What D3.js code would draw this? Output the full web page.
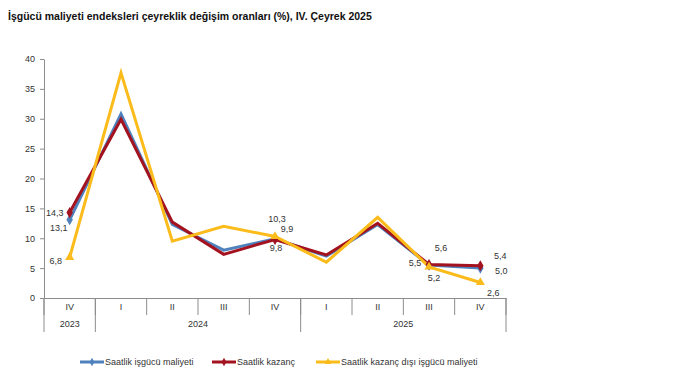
<!DOCTYPE html>
<html>
<head>
<meta charset="utf-8">
<script src="https://cdn.jsdelivr.net/npm/d3@7"></script>
<style>
  body { margin: 0; background: #fff; }
  text { font-family: Arial, "Liberation Sans", sans-serif; }
</style>
</head>
<body>
<div id="chart"></div>
<script>
// Data
var quarters = ["IV", "I", "II", "III", "IV", "I", "II", "III", "IV"];
var years = [
    { label: "2023", from: 0, to: 1 },
    { label: "2024", from: 1, to: 5 },
    { label: "2025", from: 5, to: 9 }
];
var hourlyLabourCost = [13.1, 30.8, 12.3, 8.0, 9.9, 7.0, 12.3, 5.5, 5.0];
var hourlyEarnings = [14.3, 29.9, 12.7, 7.3, 9.8, 7.2, 12.5, 5.6, 5.4];
var nonWageCost = [6.8, 37.7, 9.5, 12.0, 10.3, 6.0, 13.5, 5.2, 2.6];
var yTicks = [0, 5, 10, 15, 20, 25, 30, 35, 40];

var seriesNames = ["Saatlik işgücü maliyeti", "Saatlik kazanç", "Saatlik kazanç dışı işgücü maliyeti"];

// labels that are printed on the chart: index, dx, dy
var blueLabels = [[0, -11, 11], [4, 12, -6.5], [7, -14, 1], [8, 21, 6]];
var redLabels = [[0, -15, 3], [4, 1, 12], [7, 12, -14], [8, 20, -7]];
var yellowLabels = [[0, -14, 7], [4, 2, -14], [7, 5, 14], [8, 13, 14]];

var svg = d3.select("#chart").append("svg").attr("width", 684).attr("height", 385);

svg.append("text")
    .attr("x", 8).attr("y", 20)
    .attr("font-size", "10.5px")
    .attr("font-weight", "bold")
    .attr("fill", "#111")
    .text("İşgücü maliyeti endeksleri çeyreklik değişim oranları (%), IV. Çeyrek 2025");

var margin = { left: 44, top: 59, right: 178, bottom: 87 };
var width = 684 - margin.left - margin.right;
var height = 385 - margin.top - margin.bottom;

var chart = svg.append("g").attr("transform", "translate(" + margin.left + "," + margin.top + ")");

var x = d3.scaleBand()
    .domain(d3.range(quarters.length))
    .range([0, width])
    .padding(0);

var y = d3.scaleLinear()
    .domain([0, 40])
    .range([height, 0]);

var axisColor = "#8c8c8c";

// Y axis
var yAxis = chart.append("g")
    .call(d3.axisLeft(y).tickValues(yTicks).tickSize(4).tickSizeOuter(0));
yAxis.select(".domain").attr("stroke", axisColor);
yAxis.selectAll(".tick line").attr("stroke", axisColor);
yAxis.selectAll("text").attr("fill", "#333").attr("font-size", "9px").attr("dx", "-2");

// X axis
var xAxis = chart.append("g")
    .attr("transform", "translate(0," + height + ")")
    .call(d3.axisBottom(x).tickFormat(i => quarters[i]).tickSize(0).tickSizeOuter(0));
xAxis.select(".domain").attr("stroke", axisColor);
xAxis.selectAll("text").attr("fill", "#333").attr("font-size", "9px").attr("dy", "9");

var bandEnd = i => i < quarters.length ? x(i) : x(quarters.length - 1) + x.bandwidth();

// quarter separators
chart.selectAll(".qsep")
    .data(d3.range(quarters.length + 1))
    .enter().append("line")
    .attr("x1", i => bandEnd(i))
    .attr("x2", i => bandEnd(i))
    .attr("y1", height)
    .attr("y2", height + 17)
    .attr("stroke", axisColor);

// year separators and labels
var yearEdges = [0].concat(years.map(d => d.to));
chart.selectAll(".ysep")
    .data(yearEdges)
    .enter().append("line")
    .attr("x1", i => bandEnd(i))
    .attr("x2", i => bandEnd(i))
    .attr("y1", height)
    .attr("y2", height + 34)
    .attr("stroke", axisColor);

chart.selectAll(".ylab")
    .data(years)
    .enter().append("text")
    .attr("x", d => (bandEnd(d.from) + bandEnd(d.to)) / 2)
    .attr("y", height + 29)
    .attr("text-anchor", "middle")
    .attr("font-size", "9px")
    .attr("fill", "#333")
    .text(d => d.label);

var cx = i => x(i) + x.bandwidth() / 2;

var series = [
    { values: hourlyLabourCost, color: "#4f81bd", symbol: d3.symbolDiamond, size: 36, labels: blueLabels },
    { values: hourlyEarnings, color: "#a3121f", symbol: d3.symbolDiamond, size: 36, labels: redLabels },
    { values: nonWageCost, color: "#fbbc1b", symbol: d3.symbolTriangle, size: 36, labels: yellowLabels }
];

var line = d3.line().x((d, i) => cx(i)).y(d => y(d));

series.forEach(function (s) {
    chart.append("path")
        .datum(s.values)
        .attr("fill", "none")
        .attr("stroke", s.color)
        .attr("stroke-width", 3)
        .attr("stroke-linejoin", "miter")
        .attr("d", line);
});

series.forEach(function (s) {
    chart.selectAll(null)
        .data(s.labels.map(d => d[0]))
        .enter().append("path")
        .attr("d", d3.symbol().type(s.symbol).size(s.size))
        .attr("transform", i => "translate(" + cx(i) + "," + y(s.values[i]) + ")")
        .attr("fill", s.color);
});

series.forEach(function (s) {
    chart.selectAll(null)
        .data(s.labels)
        .enter().append("text")
        .attr("x", d => cx(d[0]) + d[1])
        .attr("y", d => y(s.values[d[0]]) + d[2])
        .attr("text-anchor", "middle")
        .attr("font-size", "9px")
        .attr("fill", "#333")
        .text(d => d3.format(".1f")(s.values[d[0]]).replace(".", ","));
});

// Legend
var legendX = [80, 212, 316];
var legend = svg.selectAll(".legend")
    .data(series)
    .enter().append("g")
    .attr("transform", (d, i) => "translate(" + legendX[i] + ",362)");
legend.append("line")
    .attr("x1", 0).attr("x2", 24)
    .attr("stroke", d => d.color)
    .attr("stroke-width", 3);
legend.append("path")
    .attr("d", d => d3.symbol().type(d.symbol).size(20)())
    .attr("transform", "translate(12,0)")
    .attr("fill", d => d.color);
legend.append("text")
    .attr("x", 25).attr("y", 3)
    .attr("font-size", "9px")
    .attr("fill", "#333")
    .text((d, i) => seriesNames[i]);
</script>
</body>
</html>
